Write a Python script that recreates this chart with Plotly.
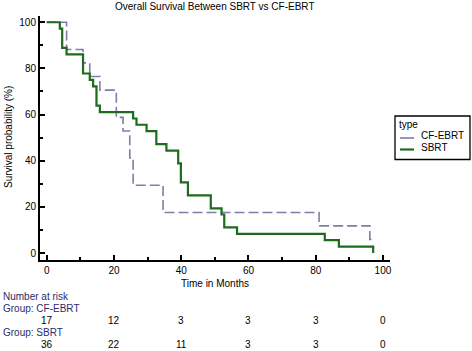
import plotly.graph_objects as go

# Kaplan-Meier step data (months, survival %)
sbrt_time = [0, 3.9, 4.6, 5.9, 10.8, 12.8, 13.8, 14.8, 15.8, 25.7, 26.7, 29.7, 32.6,
             35.6, 39.1, 39.9, 42.0, 48.8, 52.0, 52.8, 56.6, 82.7, 86.9, 97.1, 97.1]
sbrt_surv = [100, 97.2, 88.9, 86.1, 77.8, 75.0, 72.2, 63.9, 61.1, 58.3, 55.6, 52.8, 47.2,
             44.4, 38.9, 30.6, 25.0, 19.4, 16.7, 11.1, 8.3, 5.6, 2.8, 0, 0]

cf_time = [0, 5.9, 10.8, 12.8, 15.8, 20.7, 22.7, 24.7, 25.7, 34.6, 81.0, 96.1, 97.1]
cf_surv = [100, 88.2, 82.4, 76.5, 70.6, 58.8, 52.9, 41.2, 29.4, 17.6, 11.8, 5.9, 5.9]

risk_times = [0, 20, 40, 60, 80, 100]
risk_cf = [17, 12, 3, 3, 3, 0]
risk_sbrt = [36, 22, 11, 3, 3, 0]

group_names = ["CF-EBRT", "SBRT"]
title_text = "Overall Survival Between SBRT vs CF-EBRT"
x_title = "Time in Months"
y_title = "Survival probability (%)"
legend_title = "type"

FONT = "Liberation Sans, Arial, sans-serif"
NAVY = "#2b2b6e"
GREEN = "#1e6b1e"
LAV = "#7e7ea6"
FS = 10

# plot area in pixels: x 40..390, y 16..260
PL, PR, PT, PB = 40, 390, 16, 260


def px(p):
    return (p - PL) / (PR - PL)


def py(p):
    return (PB - p) / (PB - PT)


fig = go.Figure()
fig.add_trace(go.Scatter(x=cf_time, y=cf_surv, mode="lines", name=group_names[0],
                         showlegend=False,
                         line=dict(shape="hv", color=LAV, width=1.6, dash="10px,4px")))
fig.add_trace(go.Scatter(x=sbrt_time, y=sbrt_surv, mode="lines", name=group_names[1],
                         showlegend=False,
                         line=dict(shape="hv", color=GREEN, width=2.2)))

ann = []
ann.append(dict(text=title_text, x=0.5, y=py(6), xref="paper", yref="paper",
                xanchor="center", yanchor="middle", showarrow=False,
                font=dict(size=FS, color="black")))
ann.append(dict(text=x_title, x=0.5, y=py(283), xref="paper", yref="paper",
                xanchor="center", yanchor="middle", showarrow=False,
                font=dict(size=FS, color="black")))
ann.append(dict(text=y_title, x=px(8), y=py(137), xref="paper", yref="paper",
                xanchor="center", yanchor="middle", textangle=-90, showarrow=False,
                font=dict(size=FS, color="black")))

# Number at risk table
ann.append(dict(text="Number at risk", x=px(1), y=py(296), xref="paper", yref="paper",
                xanchor="left", yanchor="middle", showarrow=False,
                font=dict(size=FS, color=NAVY)))
ann.append(dict(text="Group: " + group_names[0], x=px(1), y=py(308), xref="paper",
                yref="paper", xanchor="left", yanchor="middle", showarrow=False,
                font=dict(size=FS, color=NAVY)))
ann.append(dict(text="Group: " + group_names[1], x=px(1), y=py(332.5), xref="paper",
                yref="paper", xanchor="left", yanchor="middle", showarrow=False,
                font=dict(size=FS, color=NAVY)))
for t, n in zip(risk_times, risk_cf):
    ann.append(dict(text=str(n), x=t, y=py(320), xref="x", yref="paper",
                    xanchor="center", yanchor="middle", showarrow=False,
                    font=dict(size=FS, color="black")))
for t, n in zip(risk_times, risk_sbrt):
    ann.append(dict(text=str(n), x=t, y=py(344.5), xref="x", yref="paper",
                    xanchor="center", yanchor="middle", showarrow=False,
                    font=dict(size=FS, color="black")))

# Legend (drawn as box + samples + labels)
shapes = [
    dict(type="rect", xref="paper", yref="paper", x0=px(395), x1=px(470),
         y0=py(159.5), y1=py(116), line=dict(color="black", width=1.3),
         fillcolor="white", layer="above"),
    dict(type="line", xref="paper", yref="paper", x0=px(400), x1=px(414),
         y0=py(138), y1=py(138), line=dict(color=LAV, width=1.6), layer="above"),
    dict(type="line", xref="paper", yref="paper", x0=px(400), x1=px(414),
         y0=py(149.5), y1=py(149.5), line=dict(color=GREEN, width=2.2), layer="above"),
]
ann.append(dict(text=legend_title, x=px(397), y=py(124), xref="paper", yref="paper",
                xanchor="left", yanchor="middle", showarrow=False,
                font=dict(size=FS, color="black")))
ann.append(dict(text=group_names[0], x=px(419), y=py(135.5), xref="paper", yref="paper",
                xanchor="left", yanchor="middle", showarrow=False,
                font=dict(size=FS, color="black")))
ann.append(dict(text=group_names[1], x=px(419), y=py(147), xref="paper", yref="paper",
                xanchor="left", yanchor="middle", showarrow=False,
                font=dict(size=FS, color="black")))

fig.update_layout(
    width=472, height=351,
    margin=dict(l=PL, r=472 - PR, t=PT, b=351 - PB, autoexpand=False),
    paper_bgcolor="white", plot_bgcolor="white",
    font=dict(family=FONT, size=FS, color="black"),
    annotations=ann, shapes=shapes,
    showlegend=False,
)
fig.update_xaxes(range=[-2, 102.1], showgrid=False, zeroline=False,
                 showline=True, linecolor="black", linewidth=2,
                 ticks="inside", ticklen=5, tickwidth=1.5, tickcolor="black",
                 tickvals=[0, 20, 40, 60, 80, 100],
                 minor=dict(ticks="inside", ticklen=3, tickcolor="black",
                            tickvals=[10, 30, 50, 70, 90]),
                 tickfont=dict(size=FS))
fig.update_yaxes(range=[-3.0, 102.7], showgrid=False, zeroline=False,
                 showline=True, linecolor="black", linewidth=2,
                 ticks="inside", ticklen=5, tickwidth=1.5, tickcolor="black",
                 tickvals=[0, 20, 40, 60, 80, 100],
                 minor=dict(ticks="inside", ticklen=3, tickcolor="black",
                            tickvals=[10, 30, 50, 70, 90]),
                 tickfont=dict(size=FS))

fig.write_html("out.html", config={"displayModeBar": False},
               post_script="document.body.style.margin='0px';")
